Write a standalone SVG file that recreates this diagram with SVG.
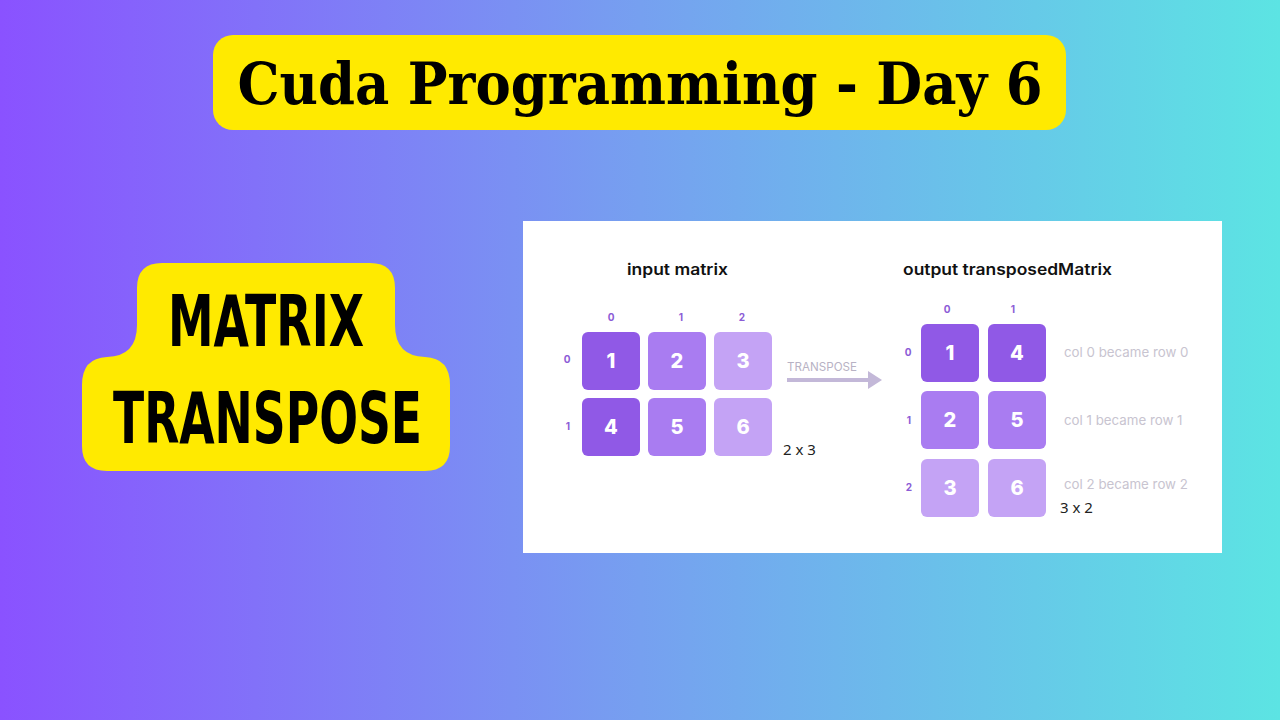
<svg xmlns="http://www.w3.org/2000/svg" width="1280" height="720" viewBox="0 0 1280 720">
<defs>
<linearGradient id="bg" x1="0" y1="0" x2="1" y2="0">
<stop offset="0" stop-color="#8a52ff"/>
<stop offset="0.5" stop-color="#76a0f0"/>
<stop offset="1" stop-color="#5ce4e3"/>
</linearGradient>
<marker id="ah" markerWidth="4" markerHeight="4.5" refX="1" refY="2.25" orient="auto" markerUnits="strokeWidth">
<path d="M0,0 L3.5,2.25 L0,4.5 Z" fill="#c3b8d8"/>
</marker>
</defs>
<style>
.cell{rx:6;ry:6}
.c0{fill:#9059e6}
.c1{fill:#a97cf1}
.c2{fill:#c4a3f5}
.num{font-family:Inter,"Noto Sans",sans-serif;font-weight:800;font-size:20px;fill:#ffffff;text-anchor:middle}
.idx{font-family:Inter,"Noto Sans",sans-serif;font-weight:700;font-size:10px;fill:#8b5cd6;text-anchor:middle}
.hdr{font-family:Inter,"Noto Sans",sans-serif;font-weight:600;font-size:15.5px;fill:#111111}
.note{font-family:Inter,"Noto Sans",sans-serif;font-size:13.3px;fill:#c8c4d0}
.dim{font-family:"Noto Sans",sans-serif;font-size:15px;fill:#222222}
.big{font-family:"DejaVu Sans Condensed","DejaVu Sans",sans-serif;font-weight:bold;fill:#000000;font-size:71px}
</style>
<rect width="1280" height="720" fill="url(#bg)"/>

<g id="title">
<rect x="213" y="35" width="853" height="95" rx="20" fill="#ffea00"/>
<text x="640" y="104" text-anchor="middle" font-family="DejaVu Serif, serif" font-weight="bold" font-size="58" fill="#000" textLength="805" lengthAdjust="spacingAndGlyphs">Cuda Programming - Day 6</text>
</g>

<g id="label">
<path d="M162,263 H370 Q395,263 395,288 V325 Q395,356 425,357 Q450,358 450,385 V446 Q450,471 425,471 H107 Q82,471 82,446 V385 Q82,358 107,357 Q137,356 137,325 V288 Q137,263 162,263 Z" fill="#ffea00"/>
<text class="big" x="168" y="346" textLength="196" lengthAdjust="spacingAndGlyphs">MATRIX</text>
<text class="big" x="113" y="443" textLength="309" lengthAdjust="spacingAndGlyphs">TRANSPOSE</text>
</g>

<g id="panel">
<rect x="523" y="221" width="699" height="332" fill="#ffffff"/>
</g>

<g id="input-matrix">
<text class="hdr" x="627" y="275" textLength="101" lengthAdjust="spacingAndGlyphs">input matrix</text>
<text class="idx" x="611" y="321">0</text>
<text class="idx" x="681" y="321">1</text>
<text class="idx" x="742" y="321">2</text>
<text class="idx" x="567" y="363">0</text>
<text class="idx" x="568" y="430">1</text>
<rect class="cell c0" x="582" y="332" width="58" height="58"/>
<rect class="cell c1" x="648" y="332" width="58" height="58"/>
<rect class="cell c2" x="714" y="332" width="58" height="58"/>
<rect class="cell c0" x="582" y="398" width="58" height="58"/>
<rect class="cell c1" x="648" y="398" width="58" height="58"/>
<rect class="cell c2" x="714" y="398" width="58" height="58"/>
<text class="num" x="611" y="368">1</text>
<text class="num" x="677" y="368">2</text>
<text class="num" x="743" y="368">3</text>
<text class="num" x="611" y="434">4</text>
<text class="num" x="677" y="434">5</text>
<text class="num" x="743" y="434">6</text>
<text class="dim" x="783" y="455">2 x 3</text>
</g>

<g id="connectors">
<text x="787" y="371" font-family="Inter, 'Noto Sans', sans-serif" font-size="11.5" fill="#b8b2c4" textLength="70" lengthAdjust="spacingAndGlyphs">TRANSPOSE</text>
<line x1="787" y1="380" x2="872" y2="380" stroke="#c3b8d8" stroke-width="4" marker-end="url(#ah)"/>
</g>

<g id="output-matrix">
<text class="hdr" x="903" y="275" textLength="209" lengthAdjust="spacingAndGlyphs">output transposedMatrix</text>
<text class="idx" x="947" y="313">0</text>
<text class="idx" x="1013" y="313">1</text>
<text class="idx" x="908" y="356">0</text>
<text class="idx" x="909" y="424">1</text>
<text class="idx" x="909" y="491">2</text>
<rect class="cell c0" x="921" y="324" width="58" height="58"/>
<rect class="cell c0" x="988" y="324" width="58" height="58"/>
<rect class="cell c1" x="921" y="391" width="58" height="58"/>
<rect class="cell c1" x="988" y="391" width="58" height="58"/>
<rect class="cell c2" x="921" y="459" width="58" height="58"/>
<rect class="cell c2" x="988" y="459" width="58" height="58"/>
<text class="num" x="950" y="360">1</text>
<text class="num" x="1017" y="360">4</text>
<text class="num" x="950" y="427">2</text>
<text class="num" x="1017" y="427">5</text>
<text class="num" x="950" y="495">3</text>
<text class="num" x="1017" y="495">6</text>
<text class="note" x="1064" y="357">col 0 became row 0</text>
<text class="note" x="1064" y="425">col 1 became row 1</text>
<text class="note" x="1064" y="489">col 2 became row 2</text>
<text class="dim" x="1060" y="513">3 x 2</text>
</g>
</svg>
